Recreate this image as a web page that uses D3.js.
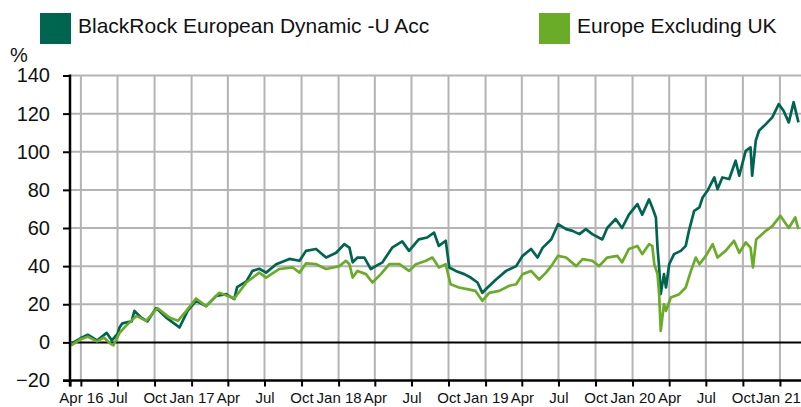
<!DOCTYPE html>
<html>
<head>
<meta charset="utf-8">
<script src="https://cdn.jsdelivr.net/npm/d3@7"></script>
<style>
  body { margin: 0; background: #fff; }
  svg { display: block; font-family: Arial, "Liberation Sans", sans-serif; }
</style>
</head>
<body>
<svg id="chart" width="801" height="407"></svg>
<script>
// Series names and colours (legend order)
var seriesNames = ["BlackRock European Dynamic -U Acc", "Europe Excluding UK"];
var seriesColors = ["#00654f", "#6aac28"];

// Fund: cumulative performance, %
var fundDates = ["2016-03-05","2016-03-09","2016-03-30","2016-04-18","2016-05-11","2016-06-04","2016-06-17","2016-07-01","2016-07-06","2016-07-13",
  "2016-08-05","2016-08-12","2016-08-29","2016-09-13","2016-10-05","2016-10-30","2016-11-20","2016-12-02","2016-12-22","2017-01-12",
  "2017-02-06","2017-03-03","2017-03-28","2017-04-17","2017-04-24","2017-05-17","2017-06-01","2017-06-18","2017-07-05","2017-07-30",
  "2017-09-01","2017-09-26","2017-10-12","2017-11-06","2017-12-01","2017-12-26","2018-01-15","2018-01-28","2018-02-05","2018-02-17",
  "2018-03-06","2018-03-22","2018-04-03","2018-04-20","2018-05-14","2018-06-08","2018-06-25","2018-07-19","2018-08-09","2018-08-26",
  "2018-09-07","2018-09-24","2018-10-03","2018-10-19","2018-11-09","2018-11-25","2018-12-12","2018-12-24","2019-01-06","2019-01-27",
  "2019-02-21","2019-03-18","2019-04-03","2019-04-24","2019-05-10","2019-05-23","2019-06-13","2019-06-30","2019-07-20","2019-08-05",
  "2019-08-22","2019-09-07","2019-09-23","2019-10-18","2019-10-30","2019-11-20","2019-12-06","2019-12-23","2020-01-13","2020-01-25",
  "2020-02-11","2020-02-19","2020-02-28","2020-03-03","2020-03-07","2020-03-11","2020-03-19","2020-03-24","2020-04-01","2020-04-13",
  "2020-04-30","2020-05-12","2020-05-20","2020-06-02","2020-06-15","2020-06-23","2020-07-05","2020-07-22","2020-07-30","2020-08-11",
  "2020-08-28","2020-09-13","2020-09-22","2020-10-08","2020-10-20","2020-10-24","2020-11-02","2020-11-10","2020-11-27","2020-12-13",
  "2020-12-29","2021-01-10","2021-01-23","2021-02-04","2021-02-16"];
var fundValues = [0,-0.5,2,4,1,5,1,4.5,7.8,10,
  11,16.5,13,11,18,13,9.7,7.8,16.5,21.8,
  19,24.4,25.3,22.7,29,32,37.5,38.6,36.6,41,
  43.8,42.8,48,49,44.5,47,51.5,49.7,42,44.5,
  44.5,38.4,40,42,49.7,53,48,54,55,57.6,
  50.6,53.3,39.3,37.5,35.8,34,31.4,26,28.8,33,
  37.5,40,45.4,49,44.5,49.7,54,62,59.4,58.5,
  56.8,59.4,56.8,54,60,64.7,60,67,72.5,67,
  75,70.8,65.5,49.7,39.3,25.3,35.8,28.8,41,46.3,
  48,50.6,58.5,69,70.8,76,79.5,86.5,80.4,86.5,
  85.7,95.3,87.4,100.5,102.3,87.4,105.8,111,114.5,118,
  125,121.5,115.4,126,115.4];

// Sector: cumulative performance, %
var indexDates = ["2016-03-05","2016-03-10","2016-03-30","2016-04-18","2016-05-11","2016-05-28","2016-06-14","2016-06-21","2016-07-06","2016-07-19",
  "2016-08-17","2016-09-10","2016-10-08","2016-11-07","2016-11-28","2016-12-19","2017-01-12","2017-02-06","2017-03-11","2017-04-17",
  "2017-05-17","2017-06-18","2017-07-05","2017-08-07","2017-09-09","2017-09-26","2017-10-12","2017-11-06","2017-12-01","2018-01-03",
  "2018-01-19","2018-01-28","2018-02-05","2018-02-17","2018-03-10","2018-03-26","2018-04-16","2018-05-07","2018-06-01","2018-06-25",
  "2018-07-12","2018-08-06","2018-08-22","2018-09-07","2018-09-24","2018-10-06","2018-10-27","2018-11-16","2018-12-07","2018-12-24",
  "2019-01-10","2019-02-04","2019-03-01","2019-03-18","2019-04-03","2019-04-24","2019-05-14","2019-05-31","2019-06-13","2019-06-30",
  "2019-07-20","2019-08-14","2019-08-30","2019-09-23","2019-10-10","2019-10-30","2019-11-24","2019-12-06","2019-12-23","2020-01-13",
  "2020-01-25","2020-02-11","2020-02-19","2020-02-24","2020-03-03","2020-03-07","2020-03-11","2020-03-19","2020-03-24","2020-04-05",
  "2020-04-26","2020-05-12","2020-05-25","2020-06-06","2020-06-15","2020-07-01","2020-07-18","2020-07-30","2020-08-19","2020-09-09",
  "2020-09-22","2020-10-08","2020-10-20","2020-10-26","2020-11-03","2020-11-27","2020-12-13","2021-01-02","2021-01-23","2021-02-08",
  "2021-02-16"];
var indexValues = [0,-1.3,1.5,3,0.5,2.5,-0.7,-1.5,5,8,
  13.9,11.3,18,13,11.3,16.5,23,19,26,23,
  31.4,36.6,34,38.5,39.3,36.6,41.4,41,38.5,40,
  42.8,41,34,37.5,35.8,31.4,35.8,41,41,37.5,
  41,42.8,44.5,39.3,41,30.5,28.8,27.9,27,21.8,
  26,27,29.7,30.5,35.8,37.5,33,36.6,40,45.4,
  44.5,40,43.7,42.8,40,44.5,45.4,42,49,50.6,
  46.3,51.5,50.6,41,35.8,25.3,6,20,16.5,23.5,
  25.3,28.8,37.5,44.5,41,45.4,51.5,44.5,48,53.3,
  47,52.4,49.7,39.3,54,58.5,61,66.4,60,65.5,
  59.4];

var yTicks = [-20, 0, 20, 40, 60, 80, 100, 120, 140];
var xStart = "2016-03-05", xEnd = "2021-03-05";
var monthNames = ["Jan","Feb","Mar","Apr","May","Jun","Jul","Aug","Sep","Oct","Nov","Dec"];

(function() {
  var parse = d3.timeParse("%Y-%m-%d");
  var svg = d3.select("#chart");
  var plotLeft = 70, plotRight = 805.3, plotTop = 75.5, plotBottom = 380.5;

  var x = d3.scaleTime().domain([parse(xStart), parse(xEnd)]).range([plotLeft, plotRight]);
  var y = d3.scaleLinear().domain([-20, 140]).range([plotBottom, plotTop]);

  // quarter ticks, plus the corner tick at the start of the axis
  var quarters = d3.timeMonth.every(3).range(parse("2016-04-01"), parse("2021-02-01"));
  var xTicks = [parse(xStart)].concat(quarters);

  // grid
  var grid = svg.append("g").attr("class", "grid");
  grid.selectAll(".hg").data(yTicks.filter(function(d){ return d !== 0 && d !== -20; })).enter()
    .append("line").attr("class", "hg")
    .attr("x1", plotLeft).attr("x2", 801)
    .attr("y1", function(d){ return y(d); }).attr("y2", function(d){ return y(d); })
    .attr("stroke", "#b4b4b4").attr("stroke-width", 2);
  grid.selectAll(".vg").data(quarters).enter().append("line").attr("class", "vg")
    .attr("x1", function(d){ return x(d); }).attr("x2", function(d){ return x(d); })
    .attr("y1", plotTop).attr("y2", plotBottom).attr("stroke", "#b4b4b4").attr("stroke-width", 2);
  // zero line
  svg.append("line").attr("x1", plotLeft).attr("x2", 801).attr("y1", y(0)).attr("y2", y(0))
    .attr("stroke", "#000").attr("stroke-width", 2);

  // lines
  var fund = fundDates.map(function(d, i){ return {date: parse(d), value: fundValues[i]}; });
  var index = indexDates.map(function(d, i){ return {date: parse(d), value: indexValues[i]}; });
  var line = d3.line().x(function(d){ return x(d.date); }).y(function(d){ return y(d.value); });

  svg.append("path").datum(fund).attr("d", line).attr("fill", "none")
    .attr("stroke", seriesColors[0]).attr("stroke-width", 2.7).attr("stroke-linejoin", "round");
  svg.append("path").datum(index).attr("d", line).attr("fill", "none")
    .attr("stroke", seriesColors[1]).attr("stroke-width", 2.7).attr("stroke-linejoin", "round");

  // x axis
  var xAxis = d3.axisBottom(x).tickValues(xTicks).tickSize(6).tickSizeOuter(0)
    .tickFormat(function(d, i) {
      if (i === 0) return "";
      var m = d.getMonth();
      if (i === 1 || m === 0) return monthNames[m] + " " + d3.timeFormat("%y")(d);
      return monthNames[m];
    });
  var gx = svg.append("g").attr("transform", "translate(0," + plotBottom + ")").call(xAxis);
  gx.select(".domain").remove();
  gx.selectAll(".tick line").attr("stroke", "#000").attr("stroke-width", 2);
  gx.selectAll(".tick text").attr("y", 10).attr("dy", "0.8em").attr("fill", "#111")
    .style("font-size", "15px").style("font-family", "Arial, 'Liberation Sans', sans-serif")
    .attr("x", function(d, i){ return i === xTicks.length - 1 ? -2 : 0; });
  svg.append("line").attr("x1", plotLeft - 7).attr("x2", 801).attr("y1", plotBottom).attr("y2", plotBottom)
    .attr("stroke", "#000").attr("stroke-width", 2.5);

  // y axis
  var yAxis = d3.axisLeft(y).tickValues(yTicks).tickSize(7).tickSizeOuter(0).tickPadding(13);
  var gy = svg.append("g").attr("transform", "translate(" + plotLeft + ",0)").call(yAxis);
  gy.select(".domain").remove();
  gy.selectAll(".tick line").attr("stroke", "#000").attr("stroke-width", 2);
  gy.selectAll(".tick text").attr("fill", "#111")
    .style("font-size", "20px").style("font-family", "Arial, 'Liberation Sans', sans-serif");
  svg.append("line").attr("x1", plotLeft).attr("x2", plotLeft).attr("y1", plotTop - 1).attr("y2", plotBottom + 6)
    .attr("stroke", "#000").attr("stroke-width", 2.5);

  svg.append("text").attr("x", 10).attr("y", 62).attr("fill", "#111")
    .style("font-size", "20px").text("%");

  // legend
  var legendX = [40, 539];
  var lg = svg.selectAll(".legend").data(seriesNames).enter().append("g").attr("class", "legend")
    .attr("transform", function(d, i){ return "translate(" + legendX[i] + ",13)"; });
  lg.append("rect").attr("width", 31).attr("height", 31).attr("fill", function(d, i){ return seriesColors[i]; });
  lg.append("text").attr("x", 38).attr("y", 19.5).attr("fill", "#111")
    .style("font-size", "21px").text(function(d){ return d; });
})();
</script>
</body>
</html>
